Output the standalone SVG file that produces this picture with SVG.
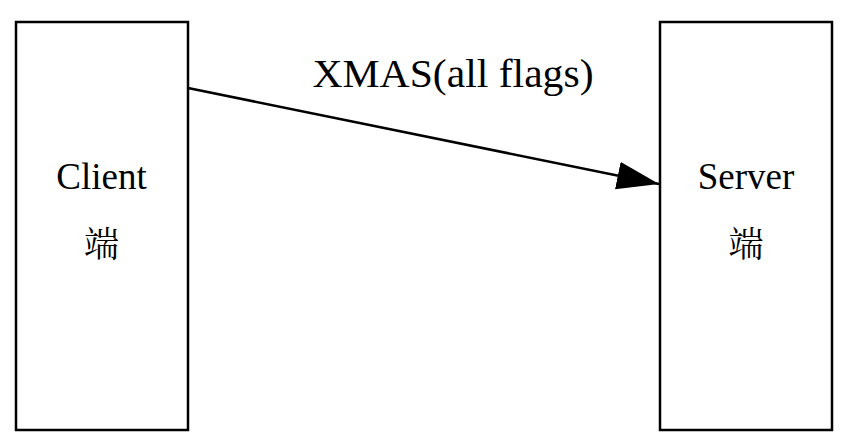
<svg xmlns="http://www.w3.org/2000/svg" width="852" height="446" viewBox="0 0 852 446">
<style>
.box{fill:#fff;stroke:#000;stroke-width:2.5}
.t{font-family:"Liberation Serif","Noto Serif CJK SC","Noto Sans CJK SC",serif;fill:#000;text-anchor:middle}
.edge{stroke:#000;stroke-width:2.5;fill:none}
</style>
<defs>
<marker id="arr" markerUnits="userSpaceOnUse" markerWidth="44" markerHeight="30" refX="42" refY="14" orient="auto">
<path d="M0,0 L42,14 L0,28 Z" fill="#000"/>
</marker>
</defs>
<rect width="852" height="446" fill="#fff"/>
<g id="client">
<rect class="box" x="16" y="22" width="172" height="408"/>
<text class="t" x="101.5" y="189" font-size="37">Client</text>
<text class="t" x="101.5" y="257" font-size="35">端</text>
</g>
<g id="server">
<rect class="box" x="660" y="22" width="172" height="408"/>
<text class="t" x="746" y="189" font-size="37">Server</text>
<text class="t" x="746" y="257" font-size="35">端</text>
</g>
<g id="connectors">
<line class="edge" x1="188" y1="88" x2="659" y2="184" marker-end="url(#arr)"/>
<text class="t" x="453" y="87" font-size="39" textLength="281" lengthAdjust="spacingAndGlyphs">XMAS(all flags)</text>
</g>
</svg>
